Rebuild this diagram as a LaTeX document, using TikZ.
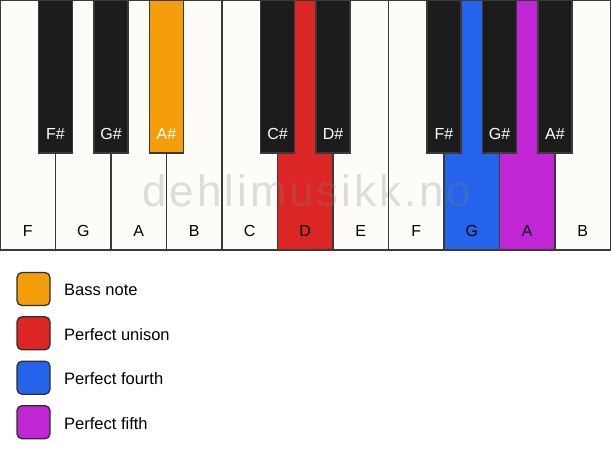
\documentclass[tikz,border=0pt]{standalone}
\usepackage{fontspec}
\setmainfont{Liberation Sans}
\newfontfamily\markfont[LetterSpace=6.6]{Liberation Sans}
\usepackage{xcolor}
\usetikzlibrary{positioning}
\definecolor{keywhite}{HTML}{FDFCF9}
\definecolor{keyblack}{HTML}{1C1C1C}
\definecolor{keyline}{HTML}{3A3A3A}
\definecolor{bassnote}{HTML}{F59E0B}
\definecolor{unison}{HTML}{DC2626}
\definecolor{fourth}{HTML}{2563EB}
\definecolor{fifth}{HTML}{C026D3}
\tikzset{
	whitekey/.style={
			draw=keyline, line width=1.3pt, fill=#1, anchor=north west,
			minimum width=55.5pt, minimum height=250pt, inner sep=0pt, outer sep=0pt
		},
	whitekey/.default=keywhite,
	blackkey/.style={
			draw=keyline, line width=1.1pt, fill=#1, anchor=north,
			minimum width=34pt, minimum height=153pt, inner sep=0pt, outer sep=0pt
		},
	blackkey/.default=keyblack,
	keyname/.style={anchor=base, yshift=14pt, font=\fontsize{16}{18}\selectfont, inner sep=0pt},
	swatch/.style={
			draw=keyline!80!black, line width=1.3pt, fill=#1, rounded corners=5pt,
			minimum size=33pt, inner sep=0pt
		},
	legendtext/.style={anchor=west, font=\fontsize{16.5}{19}\selectfont, inner sep=0pt}
}

\begin{document}
\begin{tikzpicture}[x=1pt,y=-1pt]
        \useasboundingbox (0,0) rectangle (611,461);
        % white keys
        \node[whitekey] (w_F_1) at (0, 0) [label={[keyname]south:F}] {};
        \node[whitekey] (w_G_1) at (55.5, 0) [label={[keyname]south:G}] {};
        \node[whitekey] (w_A_1) at (111, 0) [label={[keyname]south:A}] {};
        \node[whitekey] (w_B_1) at (166.5, 0) [label={[keyname]south:B}] {};
        \node[whitekey] (w_C_2) at (222, 0) [label={[keyname]south:C}] {};
        \node[whitekey=unison] (w_D_2) at (277.5, 0) [label={[keyname]south:D}] {};
        \node[whitekey] (w_E_2) at (333, 0) [label={[keyname]south:E}] {};
        \node[whitekey] (w_F_2) at (388.5, 0) [label={[keyname]south:F}] {};
        \node[whitekey=fourth] (w_G_2) at (444, 0) [label={[keyname]south:G}] {};
        \node[whitekey=fifth] (w_A_2) at (499.5, 0) [label={[keyname]south:A}] {};
        \node[whitekey] (w_B_2) at (555, 0) [label={[keyname]south:B}] {};
        % black keys
        \node[blackkey] (b_Fs_1) at (55.5, 0) [label={[keyname,white]south:F\#}] {};
        \node[blackkey] (b_Gs_1) at (111, 0) [label={[keyname,white]south:G\#}] {};
        \node[blackkey=bassnote] (b_As_1) at (166.5, 0) [label={[keyname,white]south:A\#}] {};
        \node[blackkey] (b_Cs_2) at (277.5, 0) [label={[keyname,white]south:C\#}] {};
        \node[blackkey] (b_Ds_2) at (333, 0) [label={[keyname,white]south:D\#}] {};
        \node[blackkey] (b_Fs_2) at (444, 0) [label={[keyname,white]south:F\#}] {};
        \node[blackkey] (b_Gs_2) at (499.5, 0) [label={[keyname,white]south:G\#}] {};
        \node[blackkey] (b_As_2) at (555, 0) [label={[keyname,white]south:A\#}] {};
        % watermark
        \node[anchor=base, inner sep=0pt, text=black!50, text opacity=0.25,
            font=\markfont\fontsize{44}{50}\selectfont] (mark) at (307, 206.5) {dehlimusikk.no};
        % legend
        \node[swatch=bassnote] (s_bass) at (33.5, 289) {};
        \node[swatch=unison] (s_unison) at (33.5, 333.3) {};
        \node[swatch=fourth] (s_fourth) at (33.5, 377.7) {};
        \node[swatch=fifth] (s_fifth) at (33.5, 422.2) {};
        \node[legendtext] (t_bass) at (64, 290) {Bass note};
        \node[legendtext] (t_unison) at (64, 334.3) {Perfect unison};
        \node[legendtext] (t_fourth) at (64, 378.7) {Perfect fourth};
        \node[legendtext] (t_fifth) at (64, 423.2) {Perfect fifth};
    \end{tikzpicture}
\end{document}
